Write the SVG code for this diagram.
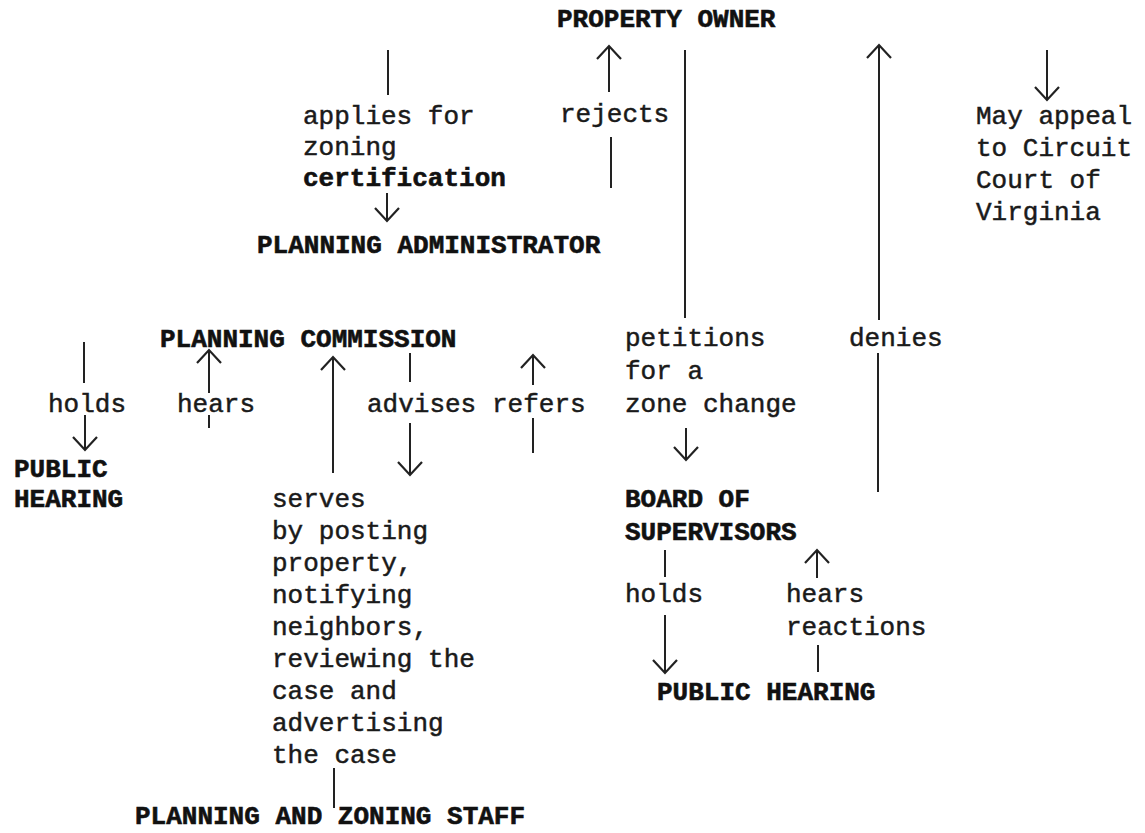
<svg xmlns="http://www.w3.org/2000/svg" width="1145" height="833" viewBox="0 0 1145 833">
<style>
.t{font-family:"Liberation Mono","DejaVu Sans Mono",monospace;font-size:26px;fill:#1a1a1a;stroke:#1a1a1a;stroke-width:0.5}
.b{font-family:"Liberation Mono","DejaVu Sans Mono",monospace;font-size:26px;font-weight:bold;fill:#111;stroke:#111;stroke-width:0.6}
.c line{stroke:#222;stroke-width:2;fill:none}
.c line.a{marker-end:url(#ah)}
</style>
<defs>
<marker id="ah" markerUnits="userSpaceOnUse" viewBox="-16 -14 18 28" refX="0" refY="0" markerWidth="18" markerHeight="28" orient="auto" overflow="visible">
<path d="M-13,-12 L0,0 L-13,12" fill="none" stroke="#222" stroke-width="2.2"/>
</marker>
</defs>
<rect width="1145" height="833" fill="#fff"/>
<g id="property-owner"><text class="b" x="557" y="27">PROPERTY OWNER</text></g>
<g id="planning-administrator"><text class="b" x="257" y="253">PLANNING ADMINISTRATOR</text></g>
<g id="planning-commission"><text class="b" x="160" y="347">PLANNING COMMISSION</text></g>
<g id="public-hearing-1"><text class="b" x="14" y="477">PUBLIC</text><text class="b" x="14" y="507">HEARING</text></g>
<g id="board-of-supervisors"><text class="b" x="625" y="507">BOARD OF</text><text class="b" x="625" y="540">SUPERVISORS</text></g>
<g id="public-hearing-2"><text class="b" x="657" y="700">PUBLIC HEARING</text></g>
<g id="planning-zoning-staff"><text class="b" x="135" y="824">PLANNING AND ZONING STAFF</text></g>
<g id="circuit-court"><text class="t" x="976" y="124">May appeal</text><text class="t" x="976" y="156">to Circuit</text><text class="t" x="976" y="188">Court of</text><text class="t" x="976" y="220">Virginia</text></g>
<g id="labels">
<text class="t" x="303" y="124">applies for</text>
<text class="t" x="303" y="155">zoning</text>
<text class="b" x="303" y="186">certification</text>
<text class="t" x="560" y="122">rejects</text>
<text class="t" x="625" y="346">petitions</text>
<text class="t" x="625" y="379">for a</text>
<text class="t" x="625" y="412">zone change</text>
<text class="t" x="849" y="346">denies</text>
<text class="t" x="48" y="412">holds</text>
<text class="t" x="177" y="412">hears</text>
<text class="t" x="367" y="412">advises</text>
<text class="t" x="492" y="412">refers</text>
<text class="t" x="272" y="507">serves</text>
<text class="t" x="272" y="539">by posting</text>
<text class="t" x="272" y="571">property,</text>
<text class="t" x="272" y="603">notifying</text>
<text class="t" x="272" y="635">neighbors,</text>
<text class="t" x="272" y="667">reviewing the</text>
<text class="t" x="272" y="699">case and</text>
<text class="t" x="272" y="731">advertising</text>
<text class="t" x="272" y="763">the case</text>
<text class="t" x="625" y="602">holds</text>
<text class="t" x="786" y="602">hears</text>
<text class="t" x="786" y="635">reactions</text>
</g>
<g id="connectors" class="c">
<line x1="388" y1="50" x2="388" y2="95"/>
<line class="a" x1="387" y1="193" x2="387" y2="221"/>
<line class="a" x1="609" y1="92" x2="609" y2="46"/>
<line x1="611" y1="137" x2="611" y2="188"/>
<line x1="685" y1="50" x2="685" y2="318"/>
<line class="a" x1="686" y1="428" x2="686" y2="460"/>
<line class="a" x1="879" y1="320" x2="879" y2="45"/>
<line x1="878" y1="353" x2="878" y2="492"/>
<line class="a" x1="1047" y1="50" x2="1047" y2="100"/>
<line x1="84" y1="342" x2="84" y2="383"/>
<line class="a" x1="85" y1="415" x2="85" y2="450"/>
<line class="a" x1="209" y1="393" x2="209" y2="350"/>
<line x1="209" y1="415" x2="209" y2="428"/>
<line class="a" x1="333" y1="473" x2="333" y2="357"/>
<line x1="334" y1="768" x2="334" y2="808"/>
<line x1="410" y1="353" x2="410" y2="382"/>
<line class="a" x1="410" y1="423" x2="410" y2="475"/>
<line class="a" x1="533" y1="385" x2="533" y2="355"/>
<line x1="533" y1="418" x2="533" y2="453"/>
<line x1="665" y1="550" x2="665" y2="577"/>
<line class="a" x1="665" y1="615" x2="665" y2="673"/>
<line class="a" x1="817" y1="578" x2="817" y2="550"/>
<line x1="818" y1="645" x2="818" y2="672"/>
</g>
</svg>
